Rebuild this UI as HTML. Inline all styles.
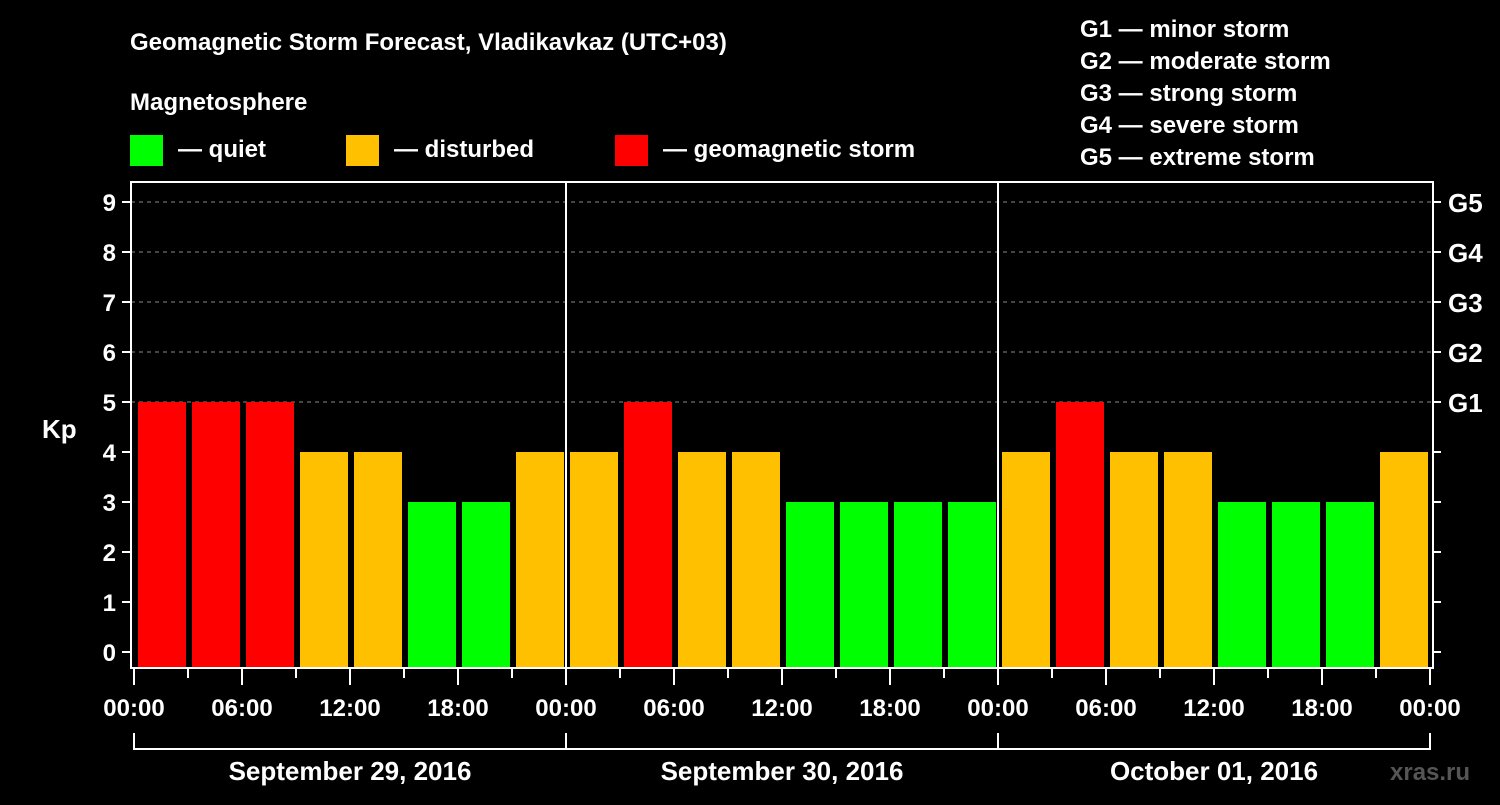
<!DOCTYPE html>
<html><head><meta charset="utf-8"><style>
body{margin:0;background:#000;width:1500px;height:800px;overflow:hidden}
svg{font-family:"Liberation Sans",sans-serif;font-weight:bold;fill:#fff}
</style></head><body>
<svg width="1500" height="800">
<text x="130" y="50" font-size="24">Geomagnetic Storm Forecast, Vladikavkaz (UTC+03)</text>
<text x="130" y="110" font-size="24">Magnetosphere</text>
<g>
<rect x="130" y="135" width="33" height="31" fill="#00ff00"/><text x="178" y="157" font-size="24">— quiet</text>
<rect x="346" y="135" width="33" height="31" fill="#ffc000"/><text x="394" y="157" font-size="24">— disturbed</text>
<rect x="615" y="135" width="33" height="31" fill="#ff0000"/><text x="663" y="157" font-size="24">— geomagnetic storm</text>
</g>
<g font-size="24">
<text x="1080" y="37">G1 — minor storm</text><text x="1080" y="69">G2 — moderate storm</text>
<text x="1080" y="101">G3 — strong storm</text><text x="1080" y="133">G4 — severe storm</text>
<text x="1080" y="165">G5 — extreme storm</text>
</g>
<text x="42" y="438" font-size="26">Kp</text>
<text x="1390" y="780" font-size="24" fill="#555" style="fill:#555">xras.ru</text>
<g id="plot"></g>
</svg>
<script>
const kpValues=[5,5,5,4,4,3,3,4, 4,5,4,4,3,3,3,3, 4,5,4,4,3,3,3,4];
const dayLabels=["September 29, 2016","September 30, 2016","October 01, 2016"];
const yTicks=[0,1,2,3,4,5,6,7,8,9];
const gLabels=["G1","G2","G3","G4","G5"];
const hourLabels=["00:00","06:00","12:00","18:00"];
const NS="http://www.w3.org/2000/svg";
const g=document.getElementById('plot');
const X0=134,X1=1430,HRS=72;
const x=h=>X0+h*(X1-X0)/HRS;
const y=v=>652-50*v;
function mk(t,a,p){const e=document.createElementNS(NS,t);for(const k in a)e.setAttribute(k,a[k]);(p||g).appendChild(e);return e;}
// grid
for(let v=5;v<=9;v++){const l=mk('line',{x1:131,x2:1433,y1:y(v),y2:y(v),stroke:'#888','stroke-dasharray':'4,4','stroke-width':1});

}
// bars
kpValues.forEach((v,i)=>{const c=v>=5?'#ff0000':v>=4?'#ffc000':'#00ff00';
const r=mk('rect',{x:x(i*3)+4,y:y(v),width:x(3)-x(0)-6,height:667-y(v),fill:c});

});
// frame
const f=mk('rect',{x:131,y:182,width:1302,height:486,fill:'none',stroke:'#fff','stroke-width':2});


for(let d=1;d<3;d++){const l=mk('line',{x1:x(d*24),x2:x(d*24),y1:182,y2:668,stroke:'#fff','stroke-width':2});

}
// y ticks
yTicks.forEach(v=>{mk('line',{x1:122,x2:131,y1:y(v),y2:y(v),stroke:'#fff','stroke-width':2});
const t=mk('text',{x:116,y:y(v)+9,'font-size':24,'text-anchor':'end'});t.textContent=v;


mk('line',{x1:1433,x2:1441,y1:y(v),y2:y(v),stroke:'#fff','stroke-width':2});});
gLabels.forEach((s,i)=>{const t=mk('text',{x:1448,y:y(5+i)+10,'font-size':26});t.textContent=s;

});
// x ticks
for(let h=0;h<=72;h+=3){const long=h%6===0;mk('line',{x1:x(h),x2:x(h),y1:668,y2:long?685:678,stroke:'#fff','stroke-width':2});
if(long){const t=mk('text',{x:x(h),y:716,'font-size':24,'text-anchor':'middle'});t.textContent=hourLabels[(h%24)/6];

}}
// day brackets
mk('polyline',{points:`${x(0)},733 ${x(0)},749 ${x(72)},749 ${x(72)},733`,fill:'none',stroke:'#fff','stroke-width':2});
dayLabels.forEach((s,d)=>{mk('line',{x1:x(d*24),x2:x(d*24),y1:733,y2:749,stroke:'#fff','stroke-width':2});
const t=mk('text',{x:x(d*24+12),y:780,'font-size':26,'text-anchor':'middle'});t.textContent=s;

});
</script>
</body></html>
